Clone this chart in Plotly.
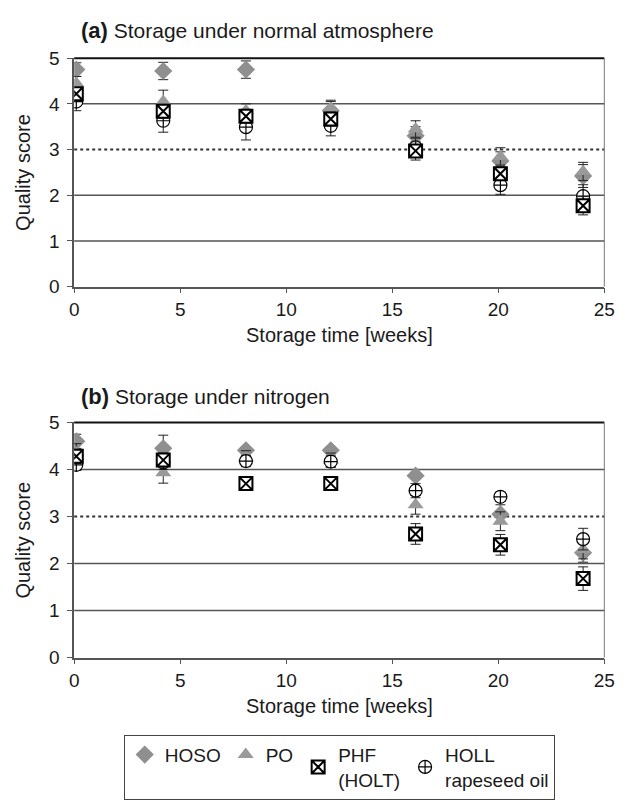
import plotly.graph_objects as go

# ---------------- data ----------------
weeks = [0.1, 4.2, 8.1, 12.1, 16.1, 20.1, 24.0]

# (a) storage under normal atmosphere
a_hoso = [4.75, 4.72, 4.75, 3.85, 3.30, 2.75, 2.42]
a_hoso_err = [0.15, 0.19, 0.19, 0.20, 0.20, 0.20, 0.25]
a_po = [4.45, 4.05, 3.85, 3.90, 3.45, 2.85, 2.52]
a_po_err = [0.15, 0.25, 0.15, 0.18, 0.18, 0.19, 0.20]
a_phf = [4.22, 3.84, 3.73, 3.67, 2.97, 2.47, 1.77]
a_phf_err = [0.12, 0.15, 0.15, 0.15, 0.20, 0.15, 0.20]
a_holl = [4.05, 3.63, 3.49, 3.52, 3.05, 2.22, 1.98]
a_holl_err = [0.20, 0.25, 0.28, 0.22, 0.20, 0.20, 0.25]

# (b) storage under nitrogen
b_hoso = [4.60, 4.45, 4.41, 4.41, 3.87, 3.05, 2.23]
b_hoso_err = [0.15, 0.28, 0.07, 0.07, 0.06, 0.20, 0.20]
b_po = [4.35, 3.93, 4.25, 4.20, 3.25, 2.90, 2.30]
b_po_err = [0.20, 0.22, 0.15, 0.15, 0.20, 0.20, 0.20]
b_phf = [4.28, 4.20, 3.70, 3.70, 2.63, 2.40, 1.68]
b_phf_err = [0.15, 0.15, 0.10, 0.10, 0.22, 0.22, 0.25]
b_holl = [4.10, 4.15, 4.18, 4.17, 3.55, 3.42, 2.52]
b_holl_err = [0.12, 0.15, 0.12, 0.12, 0.15, 0.10, 0.23]

series_names = ["HOSO", "PO", "PHF<br>(HOLT)", "HOLL<br>rapeseed oil"]
y_ticks = [0, 1, 2, 3, 4, 5]
x_ticks = [0, 5, 10, 15, 20, 25]
solid_grid = [1, 2, 4]
limit_line = 3  # acceptability limit (dotted)

FONT = "Liberation Sans, Arial, sans-serif"
W, H = 627, 800

styles = [
    dict(symbol="diamond", size=14, color="#8f8f8f", line=dict(color="#8f8f8f", width=0)),
    dict(symbol="triangle-up", size=14, color="#9a9a9a", line=dict(color="#9a9a9a", width=0)),
    dict(symbol="square-x", size=13, color="white", line=dict(color="black", width=2)),
    dict(symbol="circle-cross", size=13, color="white", line=dict(color="black", width=1.2)),
]

panels = [
    ("x", "y", [a_hoso, a_po, a_phf, a_holl], [a_hoso_err, a_po_err, a_phf_err, a_holl_err]),
    ("x2", "y2", [b_hoso, b_po, b_phf, b_holl], [b_hoso_err, b_po_err, b_phf_err, b_holl_err]),
]

fig = go.Figure()
draw_order = [0, 1, 3, 2]
for pi, (xa, ya, vals, errs) in enumerate(panels):
    for si in draw_order:
        fig.add_trace(go.Scatter(
            x=weeks, y=vals[si], xaxis=xa, yaxis=ya, mode="markers",
            name=series_names[si], showlegend=(pi == 0), legendrank=si + 1,
            marker=styles[si],
            error_y=dict(type="data", array=errs[si], visible=True,
                         color="#222", thickness=1, width=5),
        ))

xdom = [71 / W, 615 / W]
ydom_a = [1 - 287 / H, 1 - 50 / H]
ydom_b = [1 - 672 / H, 1 - 428 / H]

axis_common_x = dict(
    range=[0, 25], tickvals=x_ticks, ticks="outside", ticklen=5, tickcolor="#555",
    showline=True, linecolor="#555", linewidth=1.5, showgrid=False, zeroline=False,
    tickfont=dict(family=FONT, size=19, color="#1a1a1a"), domain=xdom,
    mirror=False,
)
axis_common_y = dict(
    range=[0, 5], tickvals=y_ticks, ticks="outside", ticklen=5, tickcolor="#555",
    showline=True, linecolor="#555", linewidth=1.5, showgrid=False, zeroline=False,
    tickfont=dict(family=FONT, size=19, color="#1a1a1a"), ticklabelstandoff=4,
)

fig.update_layout(
    width=W, height=H,
    margin=dict(l=0, r=0, t=0, b=0),
    paper_bgcolor="white", plot_bgcolor="white",
    font=dict(family=FONT, color="#1a1a1a"),
    xaxis=dict(axis_common_x, anchor="y"),
    yaxis=dict(axis_common_y, domain=ydom_a, anchor="x"),
    xaxis2=dict(axis_common_x, anchor="y2"),
    yaxis2=dict(axis_common_y, domain=ydom_b, anchor="x2"),
    legend=dict(
        orientation="h", x=343 / W, xanchor="center", y=1 - 752 / H, yanchor="top",
        bordercolor="#444", borderwidth=1, bgcolor="white",
        font=dict(family=FONT, size=19, color="#1a1a1a"),
        itemwidth=30, tracegroupgap=0, valign="middle",
    ),
    showlegend=True,
)

shapes = []
for xr, yr in [("x", "y"), ("x2", "y2")]:
    for g in solid_grid:
        shapes.append(dict(type="line", xref=f"{xr} domain", yref=yr, x0=0, x1=1, y0=g, y1=g,
                           line=dict(color="#555", width=1.5), layer="below"))
    shapes.append(dict(type="line", xref=f"{xr} domain", yref=yr, x0=0, x1=1,
                       y0=limit_line, y1=limit_line,
                       line=dict(color="#333", width=2, dash="dot"), layer="below"))
    # plot-area frame (top + right)
    shapes.append(dict(type="line", xref=f"{xr} domain", yref=f"{yr} domain", x0=0, x1=1, y0=1, y1=1,
                       line=dict(color="#111", width=2), layer="below"))
    shapes.append(dict(type="line", xref=f"{xr} domain", yref=f"{yr} domain", x0=1, x1=1, y0=0, y1=1,
                       line=dict(color="#777", width=1), layer="below"))
fig.update_layout(shapes=shapes)

ann = []
ann.append(dict(text="<b><span style='font-size:22px'>(a)</span></b> Storage under normal atmosphere",
                xref="paper", yref="paper",
                x=76 / W, y=1 - 21 / H, xanchor="left", yanchor="middle", showarrow=False,
                font=dict(family=FONT, size=21, color="#1a1a1a")))
ann.append(dict(text="<b><span style='font-size:22px'>(b)</span></b> Storage under nitrogen",
                xref="paper", yref="paper",
                x=76 / W, y=1 - 401 / H, xanchor="left", yanchor="middle", showarrow=False,
                font=dict(family=FONT, size=21, color="#1a1a1a")))
for yc in [(50 + 287) / 2, (428 + 672) / 2]:
    ann.append(dict(text="Quality score", xref="paper", yref="paper", x=19 / W, y=1 - yc / H,
                    xanchor="center", yanchor="middle", textangle=-90, showarrow=False,
                    font=dict(family=FONT, size=20, color="#1a1a1a")))
for yc in [337, 722]:
    ann.append(dict(text="Storage time [weeks]", xref="paper", yref="paper", x=343 / W, y=1 - yc / H,
                    xanchor="center", yanchor="middle", showarrow=False,
                    font=dict(family=FONT, size=20, color="#1a1a1a")))
fig.update_layout(annotations=ann)

fig.write_html("out.html")
